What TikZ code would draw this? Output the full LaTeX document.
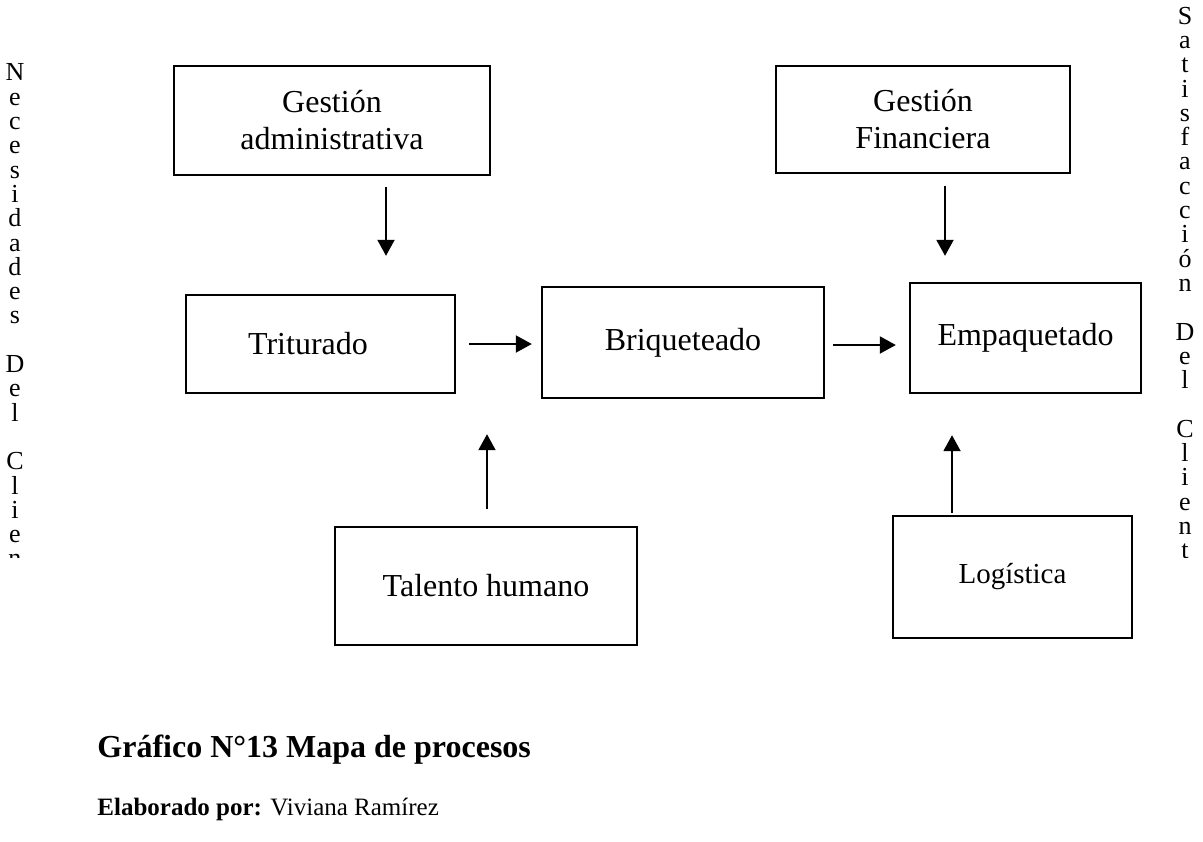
\documentclass[tikz,border=0pt]{standalone}
\usepackage{fontspec}
\setmainfont{Liberation Serif}
\usetikzlibrary{arrows.meta}
\begin{document}
\begin{tikzpicture}[x=0.5pt,y=-0.5pt,
  box/.style={draw, line width=1.2pt, inner sep=0pt, align=center,
    font=\fontsize{16}{18.5}\selectfont},
  arr/.style={line width=1pt, -{Triangle[length=8pt,width=8.5pt]}},
  col/.style={inner sep=0pt, anchor=north, align=center,
    font=\fontsize{13}{12.15}\selectfont}]
\useasboundingbox (0,0) rectangle (1203,841);
\fill[white] (0,0) rectangle (1203,841);

% process boxes
\node[box, minimum width=158pt, minimum height=54.5pt] (ga) at (332,120.5) {Gestión\\administrativa};
\node[box, minimum width=147pt, minimum height=53.5pt] (gf) at (923,119.5) {Gestión\\Financiera};
\node[box, minimum width=134.5pt, minimum height=49pt] (tri) at (320.5,344) {\hspace*{-12.5pt}Triturado};
\node[box, minimum width=141pt, minimum height=55.5pt] (bri) at (683,342.5) {Briqueteado};
\node[box, minimum width=115.5pt, minimum height=55pt] (emp) at (1025.5,338) {Empaquetado};
\node[box, minimum width=151pt, minimum height=59pt] (th) at (486,586) {Talento humano};
\node[box, minimum width=119.5pt, minimum height=61pt, font=\fontsize{14.5}{17}\selectfont] (log) at (1012.5,577) {Logística};

% guide positions for the connectors
\coordinate (xa) at (386,0);
\coordinate (xf) at (945,0);
\coordinate (xh) at (487,0);
\coordinate (xl) at (952,0);
\coordinate (y1) at (0,344);
\coordinate (y2) at (0,345);

% connectors
\draw[arr, shorten <=5.5pt, shorten >=19pt] (ga.south -| xa) -- (tri.north -| xa);
\draw[arr, shorten <=6pt, shorten >=13pt] (gf.south -| xf) -- (emp.north -| xf);
\draw[arr, shorten <=6.5pt, shorten >=4.5pt] (tri.east |- y1) -- (bri.west |- y1);
\draw[arr, shorten <=4pt, shorten >=6.5pt] (bri.east |- y2) -- (emp.west |- y2);
\draw[arr, shorten <=8.5pt, shorten >=17.5pt] (th.north -| xh) -- (bri.south -| xh);
\draw[arr, shorten <=1pt, shorten >=20.5pt] (log.north -| xl) -- (emp.south -| xl);

% caption
\node[anchor=base west, inner sep=0pt, font=\fontsize{16}{18}\selectfont\bfseries] (title) at (97,757) {Gráfico N°13 Mapa de procesos};
\node[anchor=base west, inner sep=0pt, font=\fontsize{12.5}{15}\selectfont] (by) at (97,815) {\textbf{Elaborado por:} Viviana Ramírez};

% vertical side labels, cut off at the bottom of their frames
\begin{scope}
\clip (0,0) rectangle (1203,557);
\node[col] (need) at (15,63.5) {N\\e\\c\\e\\s\\i\\d\\a\\d\\e\\s\\\mbox{}\\D\\e\\l\\\mbox{}\\C\\l\\i\\e\\n\\t\\e};
\node[col] (sat) at (1185,6.5) {S\\a\\t\\i\\s\\f\\a\\c\\c\\i\\ó\\n\\\mbox{}\\D\\e\\l\\\mbox{}\\C\\l\\i\\e\\n\\t\\e};
\end{scope}
\end{tikzpicture}
\end{document}
